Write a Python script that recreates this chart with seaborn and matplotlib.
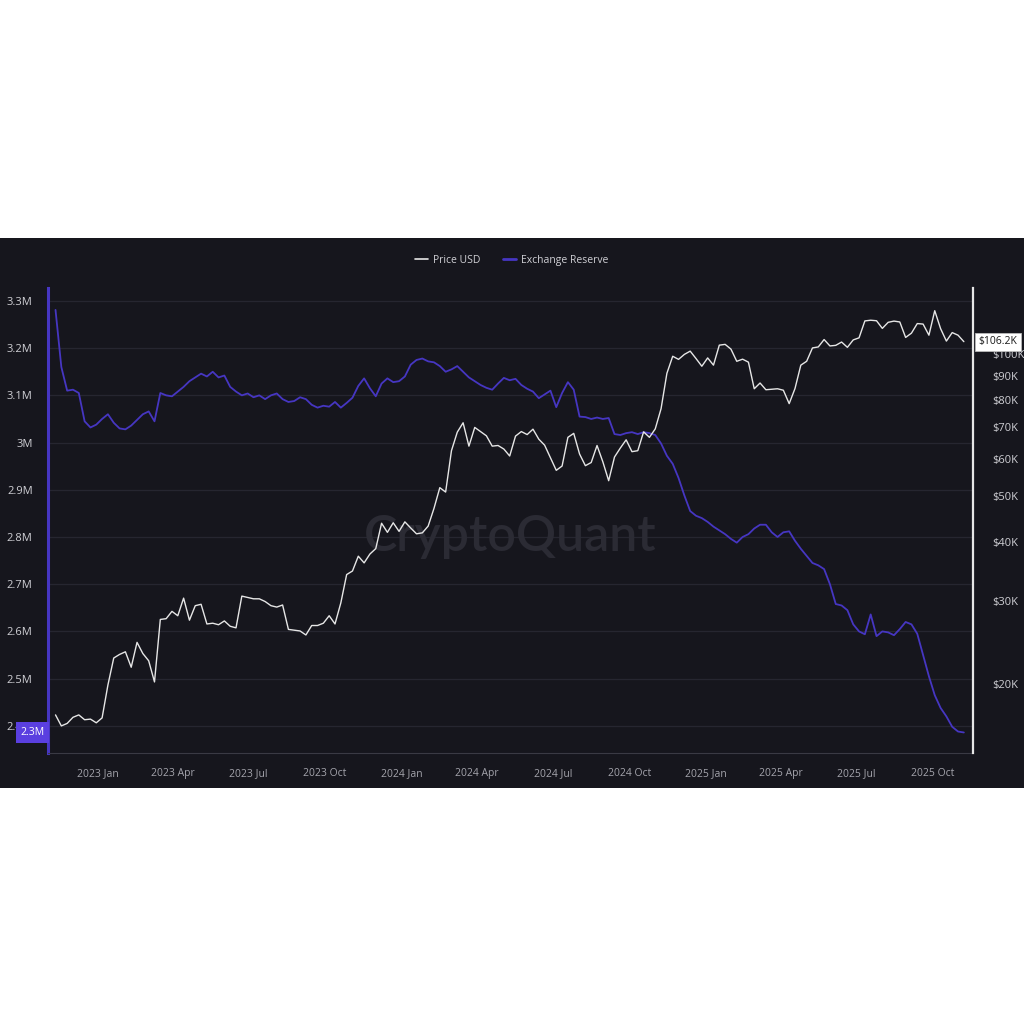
import numpy as np
import pandas as pd
import matplotlib
matplotlib.use("Agg")
import matplotlib.pyplot as plt
import matplotlib.dates as mdates
from matplotlib.patches import Rectangle
from matplotlib.lines import Line2D
from matplotlib.ticker import FixedLocator, FuncFormatter, NullLocator, NullFormatter
import seaborn as sns

# weekly samples, 2022-11-11 .. 2025-11-07
dates = pd.date_range("2022-11-11", periods=157, freq="7D")

price_usd = [
    # 2022
    17200, 16300, 16500, 17000, 17200, 16800, 16850, 16550,
    # 2023
    16950, 19900, 22700, 23100, 23400, 21700, 24500, 23200, 22400, 20200,
    27400, 27500, 28500, 27900, 30400, 27300, 29300, 29500, 26800, 26900,
    26700, 27200, 26500, 26300, 30700, 30500, 30300, 30300, 29900, 29300,
    29100, 29400, 26100, 26000, 25900, 25400, 26600, 26600, 26900, 27900,
    26800, 29700, 34100, 34700, 37300, 36100, 37700, 38700, 43800, 41900,
    43900, 42100,
    # 2024
    44100, 42800, 41600, 41800, 43200, 47100, 52100, 51000, 62400, 68300,
    71500, 63800, 69900, 68500, 67100, 63800, 64000, 62900, 60800, 67000,
    68500, 67500, 69300, 66000, 64100, 60300, 56700, 57900, 66600, 67900,
    61400, 58000, 58900, 64000, 59100, 53900, 60500, 63200, 65800, 62100,
    62400, 68400, 66600, 69400, 76600, 91000, 98900, 97400, 99800, 101400,
    97800, 94200,
    # 2025
    98100, 94700, 104400, 104800, 102400, 96500, 97500, 96100, 84400, 86800,
    84000, 84200, 84400, 83800, 78500, 84500, 94700, 96500, 103000, 103500,
    107300, 104000, 104300, 106000, 103300, 107100, 108200, 117500, 117900, 117600,
    113300, 116700, 117400, 116900, 108400, 110700, 116000, 115700, 109600, 123500,
    113200, 106500, 111000, 109600, 106200,
]

exchange_reserve_m = [
    3.281, 3.160, 3.110, 3.112, 3.105, 3.045, 3.032, 3.038, 3.050, 3.060,
    3.042, 3.030, 3.028, 3.036, 3.048, 3.060, 3.066, 3.045, 3.105, 3.100,
    3.098, 3.108, 3.118, 3.130, 3.138, 3.146, 3.140, 3.150, 3.138, 3.142,
    3.118, 3.108, 3.100, 3.104, 3.096, 3.100, 3.092, 3.100, 3.104, 3.092,
    3.086, 3.088, 3.096, 3.092, 3.080, 3.074, 3.078, 3.076, 3.086, 3.074,
    3.084, 3.095, 3.120, 3.136, 3.115, 3.098, 3.125, 3.136, 3.128, 3.130,
    3.140, 3.165, 3.175, 3.178, 3.172, 3.170, 3.162, 3.150, 3.155, 3.162,
    3.150, 3.138, 3.130, 3.122, 3.116, 3.112, 3.125, 3.137, 3.132, 3.135,
    3.122, 3.114, 3.108, 3.094, 3.102, 3.110, 3.075, 3.105, 3.128, 3.112,
    3.055, 3.054, 3.050, 3.053, 3.050, 3.052, 3.018, 3.016, 3.020, 3.022,
    3.018, 3.022, 3.020, 3.016, 2.998, 2.972, 2.955, 2.925, 2.888, 2.855,
    2.845, 2.840, 2.832, 2.822, 2.814, 2.806, 2.796, 2.788, 2.800, 2.806,
    2.818, 2.826, 2.826, 2.810, 2.800, 2.810, 2.812, 2.792, 2.775, 2.760,
    2.745, 2.740, 2.732, 2.700, 2.658, 2.655, 2.645, 2.615, 2.600, 2.594,
    2.636, 2.590, 2.600, 2.598, 2.592, 2.605, 2.620, 2.615, 2.595, 2.550,
    2.505, 2.465, 2.438, 2.420, 2.398, 2.388, 2.386,
]

reserve_ticks = [2.4, 2.5, 2.6, 2.7, 2.8, 2.9, 3.0, 3.1, 3.2, 3.3]
price_ticks = [20000, 30000, 40000, 50000, 60000, 70000, 80000, 90000, 100000]
reserve_badge = "2.3M"
price_badge = "$106.2K"

df = pd.DataFrame({"date": dates, "price": price_usd,
                   "reserve": np.array(exchange_reserve_m) * 1e6})

BG = "#16161d"
PURPLE = "#4636c2"
WHITE = "#e6e6e6"
GRID = "#262630"
TXT = "#cfcfd4"

sns.set_style("white")
plt.rcParams["font.family"] = ["Open Sans", "DejaVu Sans"]

fig = plt.figure(figsize=(10.24, 10.24), dpi=100, facecolor="white")
fig.add_artist(Rectangle((0, 0.2305), 1, 0.5371, transform=fig.transFigure,
                         facecolor=BG, edgecolor="none", zorder=0))

ax = fig.add_axes([0.0469, 0.2646, 0.9033, 0.4542])
ax.set_facecolor(BG)
sns.lineplot(data=df, x="date", y="reserve", ax=ax, color=PURPLE, lw=1.3, zorder=3)

ax2 = ax.twinx()
sns.lineplot(data=df, x="date", y="price", ax=ax2, color=WHITE, lw=1.0, zorder=3)

# left axis (reserve)
ax.set_ylim(2.3424e6, 3.3275e6)
ax.yaxis.set_major_locator(FixedLocator([v * 1e6 for v in reserve_ticks]))
ax.yaxis.set_major_formatter(FuncFormatter(lambda v, p: f"{v / 1e6:g}M"))
ax.yaxis.grid(True, color=GRID, lw=0.9)
ax.xaxis.grid(False)
ax.set_axisbelow(True)
ax.tick_params(axis="y", length=0, pad=11, labelsize=8, labelcolor=TXT)

# x axis
ax.set_xlim(pd.Timestamp("2022-11-02"), pd.Timestamp("2025-11-18"))
ax.xaxis.set_major_locator(mdates.MonthLocator(bymonth=[1, 4, 7, 10]))
ax.xaxis.set_major_formatter(mdates.DateFormatter("%Y %b"))
ax.tick_params(axis="x", length=5, width=0.8, color="#3a3a44", pad=6,
               labelsize=7.5, labelcolor="#a4a4ac")
ax.set_xlabel("")
ax.set_ylabel("")

# right axis (price, log)
ax2.set_yscale("log")
ax2.set_ylim(14280, 138000)
ax2.yaxis.set_major_locator(FixedLocator(price_ticks))
ax2.yaxis.set_major_formatter(FuncFormatter(lambda v, p: f"${v / 1000:.0f}K"))
ax2.yaxis.set_minor_locator(NullLocator())
ax2.yaxis.set_minor_formatter(NullFormatter())
ax2.tick_params(axis="y", length=0, pad=14, labelsize=8, labelcolor=TXT)
ax2.set_ylabel("")

for s in ["top", "right"]:
    ax.spines[s].set_visible(False)
ax.spines["left"].set_color(PURPLE)
ax.spines["left"].set_linewidth(2.2)
ax.spines["bottom"].set_color("#3a3a44")
for s in ["top", "left", "bottom"]:
    ax2.spines[s].set_visible(False)
ax2.spines["right"].set_color(WHITE)
ax2.spines["right"].set_linewidth(1.6)

# watermark
ax.text(0.5, 0.465, "CryptoQuant", transform=ax.transAxes, ha="center", va="center",
        fontsize=36, fontweight="semibold", color="#2b2b34", zorder=1,
        family=["Lato", "DejaVu Sans"])

# last-value badges
ax.annotate(reserve_badge, xy=(-0.004, df["reserve"].iloc[-1]),
            xycoords=("axes fraction", "data"), ha="right", va="center",
            fontsize=7.5, color="white", annotation_clip=False, zorder=5,
            bbox=dict(boxstyle="square,pad=0.45", fc="#5a3fe0", ec="none"))
ax2.annotate(price_badge, xy=(1.006, df["price"].iloc[-1]),
             xycoords=("axes fraction", "data"), ha="left", va="center",
             fontsize=7.5, color="#1a1a1a", annotation_clip=False, zorder=5,
             bbox=dict(boxstyle="square,pad=0.35", fc="white", ec="#bbbbbb", lw=0.6))

# legend
handles = [Line2D([], [], color=WHITE, lw=1.2), Line2D([], [], color=PURPLE, lw=2)]
leg = fig.legend(handles, ["Price USD", "Exchange Reserve"], loc="center",
                 bbox_to_anchor=(0.5, 0.746), ncol=2, frameon=False, fontsize=7.5,
                 handlelength=1.2, handletextpad=0.5, columnspacing=2.2)
for t in leg.get_texts():
    t.set_color(TXT)

fig.savefig("out.png", dpi=100, facecolor="white")
